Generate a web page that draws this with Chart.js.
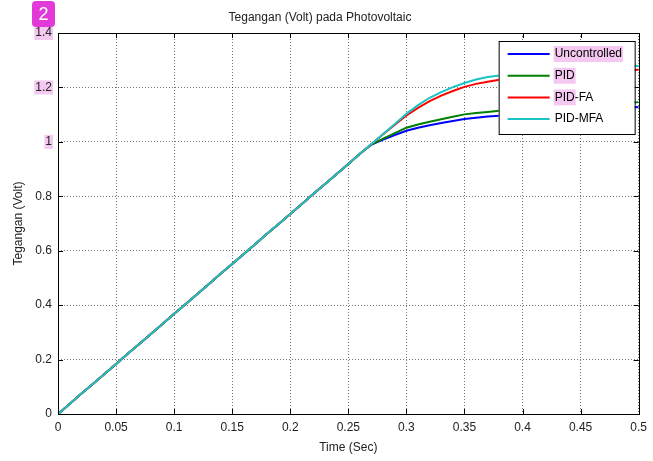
<!DOCTYPE html>
<html>
<head>
<meta charset="utf-8">
<script src="https://cdn.jsdelivr.net/npm/chart.js@4"></script>
<style>
    html, body { margin: 0; padding: 0; background: #fff; }
    #wrap { width: 653px; height: 461px; position: relative; }
</style>
</head>
<body>
<div id="wrap"><canvas id="pvChart"></canvas></div>
<script>
// Waktu simulasi (detik)
const time = [
    0, 0.01, 0.02, 0.03, 0.04, 0.05, 0.06, 0.07, 0.08, 0.09,
    0.1, 0.11, 0.12, 0.13, 0.14, 0.15, 0.16, 0.17, 0.18, 0.19,
    0.2, 0.21, 0.22, 0.23, 0.24, 0.25, 0.26, 0.27, 0.28, 0.29,
    0.3, 0.31, 0.32, 0.33, 0.34, 0.35, 0.36, 0.37, 0.38, 0.39,
    0.4, 0.41, 0.42, 0.43, 0.44, 0.45, 0.46, 0.47, 0.48, 0.49, 0.5,
];

// Tegangan (Volt) tiap metode
const uncontrolled = [
    0, 0.037, 0.074, 0.110, 0.147, 0.184, 0.221, 0.257, 0.294, 0.331,
    0.368, 0.404, 0.441, 0.478, 0.515, 0.551, 0.588, 0.625, 0.662, 0.698,
    0.735, 0.772, 0.809, 0.845, 0.882, 0.919, 0.956, 0.990, 1.008, 1.025,
    1.041, 1.052, 1.061, 1.069, 1.077, 1.084, 1.089, 1.093, 1.096, 1.099,
    1.101, 1.104, 1.106, 1.108, 1.111, 1.113, 1.116, 1.119, 1.122, 1.125, 1.128,
];
const pid = [
    0, 0.037, 0.074, 0.110, 0.147, 0.184, 0.221, 0.257, 0.294, 0.331,
    0.368, 0.404, 0.441, 0.478, 0.515, 0.551, 0.588, 0.625, 0.662, 0.698,
    0.735, 0.772, 0.809, 0.845, 0.882, 0.919, 0.956, 0.991, 1.012, 1.032,
    1.052, 1.064, 1.074, 1.083, 1.092, 1.101, 1.106, 1.110, 1.114, 1.117,
    1.120, 1.122, 1.125, 1.127, 1.130, 1.132, 1.135, 1.138, 1.140, 1.143, 1.146,
];
const pidFa = [
    0, 0.037, 0.074, 0.110, 0.147, 0.184, 0.221, 0.257, 0.294, 0.331,
    0.368, 0.404, 0.441, 0.478, 0.515, 0.551, 0.588, 0.625, 0.662, 0.698,
    0.735, 0.772, 0.809, 0.845, 0.882, 0.919, 0.956, 0.992, 1.028, 1.063,
    1.097, 1.125, 1.150, 1.170, 1.187, 1.202, 1.213, 1.221, 1.228, 1.233,
    1.237, 1.240, 1.243, 1.246, 1.249, 1.252, 1.255, 1.257, 1.260, 1.262, 1.265,
];
const pidMfa = [
    0, 0.037, 0.074, 0.110, 0.147, 0.184, 0.221, 0.257, 0.294, 0.331,
    0.368, 0.404, 0.441, 0.478, 0.515, 0.551, 0.588, 0.625, 0.662, 0.698,
    0.735, 0.772, 0.809, 0.845, 0.882, 0.919, 0.956, 0.992, 1.029, 1.066,
    1.103, 1.135, 1.162, 1.183, 1.201, 1.216, 1.229, 1.238, 1.244, 1.249,
    1.253, 1.256, 1.259, 1.262, 1.265, 1.268, 1.271, 1.274, 1.276, 1.278, 1.280,
];

const seriesNames = ["Uncontrolled", "PID", "PID-FA", "PID-MFA"];
const seriesColors = ["#0000ff", "#008000", "#ff0000", "#19c4c4"];

// Label sumbu
const xTickValues = [0, 0.05, 0.1, 0.15, 0.2, 0.25, 0.3, 0.35, 0.4, 0.45, 0.5];
const xTickLabels = ["0", "0.05", "0.1", "0.15", "0.2", "0.25", "0.3", "0.35", "0.4", "0.45", "0.5"];
const yTickValues = [0, 0.2, 0.4, 0.6, 0.8, 1, 1.2, 1.4];
const yTickLabels = ["0", "0.2", "0.4", "0.6", "0.8", "1", "1.2", "1.4"];

const FONT = "'Liberation Sans', Arial, sans-serif";
const PINK = "#f4c8f0";

function toPoints(values) {
    return time.map((t, i) => ({ x: t, y: values[i] }));
}

// garis tick ke dalam + kotak bingkai ala MATLAB
const frameTicks = {
    id: "frameTicks",
    beforeDraw(chart) {
        const ctx = chart.ctx;
        const y = chart.scales.y;
        // highlight merah muda di belakang label 1, 1.2, 1.4
        ctx.save();
        ctx.font = "12px " + FONT;
        ctx.fillStyle = PINK;
        ["1", "1.2", "1.4"].forEach((lab) => {
            const v = yTickValues[yTickLabels.indexOf(lab)];
            const py = y.getPixelForValue(v);
            const w = ctx.measureText(lab).width;
            ctx.fillRect(y.right - 6 - w - 1, py - 7, w + 2, 14);
        });
        ctx.restore();
    },
    afterDatasetsDraw(chart) {
        const ctx = chart.ctx;
        const a = chart.chartArea;
        const xs = chart.scales.x;
        const ys = chart.scales.y;
        ctx.save();
        ctx.strokeStyle = "#000";
        ctx.lineWidth = 1;
        ctx.beginPath();
        xTickValues.forEach((v) => {
            const px = Math.round(xs.getPixelForValue(v)) + 0.5;
            ctx.moveTo(px, a.bottom); ctx.lineTo(px, a.bottom - 5);
            ctx.moveTo(px, a.top); ctx.lineTo(px, a.top + 5);
        });
        yTickValues.forEach((v) => {
            const py = Math.round(ys.getPixelForValue(v)) + 0.5;
            ctx.moveTo(a.left, py); ctx.lineTo(a.left + 5, py);
            ctx.moveTo(a.right, py); ctx.lineTo(a.right - 5, py);
        });
        ctx.stroke();
        ctx.strokeRect(Math.round(a.left) + 0.5, Math.round(a.top) + 0.5,
            Math.round(a.right - a.left), Math.round(a.bottom - a.top));
        ctx.restore();
    },
    afterDraw(chart) {
        const ctx = chart.ctx;
        const a = chart.chartArea;
        // legenda di dalam area plot (kanan atas)
        const bx = a.right - 140, by = a.top + 8, bw = 136, bh = 93;
        ctx.save();
        ctx.fillStyle = "#fff";
        ctx.fillRect(bx, by, bw, bh);
        ctx.strokeStyle = "#000";
        ctx.lineWidth = 1;
        ctx.strokeRect(bx + 0.5, by + 0.5, bw, bh);
        ctx.font = "12px " + FONT;
        ctx.textBaseline = "middle";
        seriesNames.forEach((name, i) => {
            const ry = by + 13 + i * 21.7;
            // highlight teks legenda
            let hl = "";
            if (i === 0) hl = name;
            if (i === 1 || i === 2) hl = "PID";
            if (hl) {
                ctx.fillStyle = PINK;
                ctx.fillRect(bx + 55, ry - 8, ctx.measureText(hl).width + 2, 16);
            }
            ctx.strokeStyle = seriesColors[i];
            ctx.lineWidth = 2;
            ctx.beginPath();
            ctx.moveTo(bx + 9, ry);
            ctx.lineTo(bx + 51, ry);
            ctx.stroke();
            ctx.fillStyle = "#000";
            ctx.fillText(name, bx + 56, ry);
        });
        // lencana nomor
        ctx.fillStyle = "#e23ad8";
        ctx.beginPath();
        ctx.roundRect(32, 1, 23, 26, 4);
        ctx.fill();
        ctx.fillStyle = "#fff";
        ctx.font = "18px " + FONT;
        ctx.textAlign = "center";
        ctx.fillText("2", 43.5, 15);
        ctx.restore();
    },
};

const ctxPv = document.getElementById("pvChart").getContext("2d");
new Chart(ctxPv, {
    type: "line",
    data: {
        datasets: [uncontrolled, pid, pidFa, pidMfa].map((vals, i) => ({
            label: seriesNames[i],
            data: toPoints(vals),
            borderColor: seriesColors[i],
            backgroundColor: seriesColors[i],
            borderWidth: 2,
            pointRadius: 0,
            tension: 0,
            order: 4 - i,
        })),
    },
    options: {
        responsive: true,
        maintainAspectRatio: false,
        animation: false,
        layout: { padding: { left: 0, right: 13, top: 0, bottom: 0 } },
        scales: {
            x: {
                type: "linear",
                min: 0,
                max: 0.5,
                afterBuildTicks: (scale) => {
                    scale.ticks = xTickValues.map((v) => ({ value: v }));
                },
                afterFit: (scale) => { scale.height = 47; },
                ticks: {
                    color: "#222",
                    font: { family: FONT, size: 12 },
                    padding: 6,
                    maxRotation: 0,
                    autoSkip: false,
                    callback: (v, i) => xTickLabels[i],
                },
                grid: {
                    color: "rgba(0,0,0,0.55)",
                    drawTicks: false,
                },
                border: { display: false, dash: [1, 2] },
                title: {
                    display: true,
                    text: "Time (Sec)",
                    color: "#222",
                    font: { family: FONT, size: 12 },
                    padding: { top: 2, bottom: 6 },
                },
            },
            y: {
                min: 0,
                max: 1.4,
                afterBuildTicks: (scale) => {
                    scale.ticks = yTickValues.map((v) => ({ value: v }));
                },
                afterFit: (scale) => { scale.width = 58; },
                ticks: {
                    color: "#222",
                    font: { family: FONT, size: 12 },
                    padding: 6,
                    autoSkip: false,
                    callback: (v, i) => yTickLabels[i],
                },
                grid: {
                    color: "rgba(0,0,0,0.55)",
                    drawTicks: false,
                },
                border: { display: false, dash: [1, 2] },
                title: {
                    display: true,
                    text: "Tegangan (Volt)",
                    color: "#222",
                    font: { family: FONT, size: 12 },
                    padding: { top: 11, bottom: 0 },
                },
            },
        },
        plugins: {
            legend: { display: false },
            tooltip: { enabled: false },
            title: {
                display: true,
                text: "Tegangan (Volt) pada Photovoltaic",
                color: "#222",
                font: { family: FONT, size: 12, weight: "normal" },
                padding: { top: 10, bottom: 8.6 },
            },
        },
    },
    plugins: [frameTicks],
});
</script>
</body>
</html>
